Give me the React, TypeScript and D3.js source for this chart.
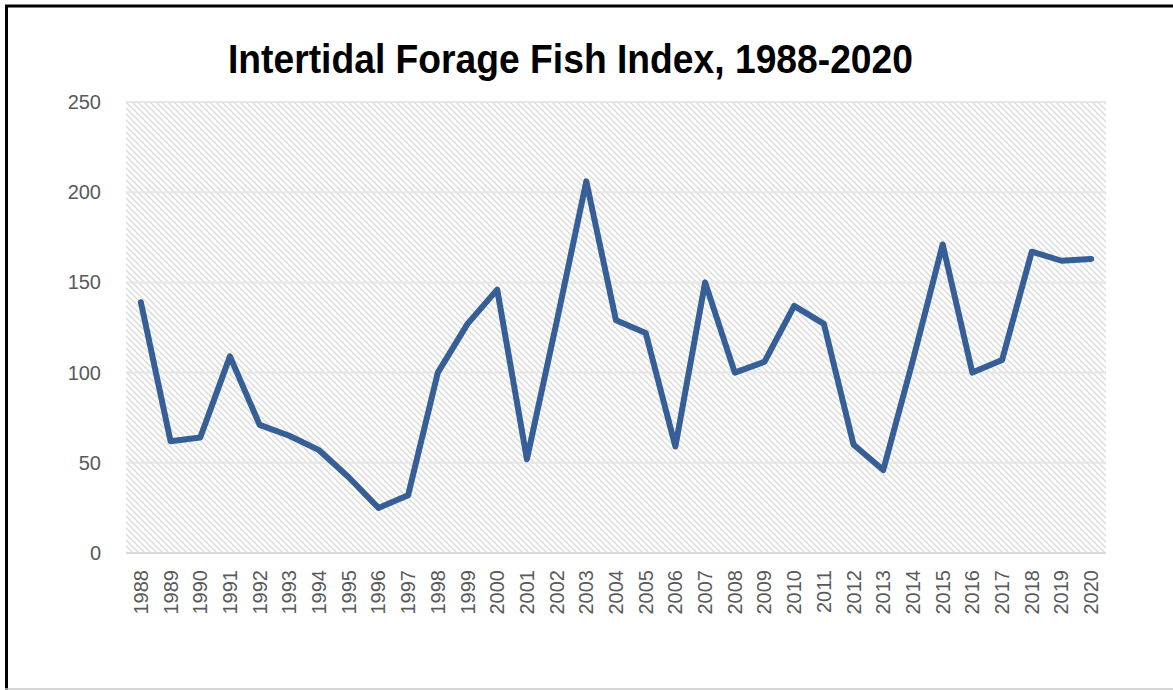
import React from "react";
import * as d3 from "d3";

const years = [
  "1988", "1989", "1990", "1991", "1992", "1993", "1994", "1995", "1996", "1997",
  "1998", "1999", "2000", "2001", "2002", "2003", "2004", "2005", "2006", "2007",
  "2008", "2009", "2010", "2011", "2012", "2013", "2014", "2015", "2016", "2017",
  "2018", "2019", "2020",
];
const indexValues = [
  139, 62, 64, 109, 71, 65, 57, 42, 25, 32,
  100, 127, 146, 52, 128, 206, 129, 122, 59, 150,
  100, 106, 137, 127, 60, 46, 107, 171, 100, 107,
  167, 162, 163,
];
const yTicks = [0, 50, 100, 150, 200, 250];
const title = "Intertidal Forage Fish Index, 1988-2020";

const W = 1173;
const H = 690;
const plot = { left: 126, right: 1106, top: 102, bottom: 553 };

export default function App() {
  const x = d3
    .scaleBand<string>()
    .domain(years)
    .range([plot.left, plot.right]);
  const y = d3.scaleLinear().domain([0, 250]).range([plot.bottom, plot.top]);

  const line = d3
    .line<number>()
    .x((d, i) => (x(years[i]) as number) + x.bandwidth() / 2)
    .y((d) => y(d));

  return (
    <svg
      width={W}
      height={H}
      style={{ position: "absolute", left: 0, top: 0, background: "#fff" }}
    >
      <defs>
        <pattern id="hatch" width="6" height="6" patternUnits="userSpaceOnUse">
          <path d="M-1,-1 L7,7 M-1,5 L1,7 M5,-1 L7,1" stroke="#dadada" strokeWidth="1.4" />
        </pattern>
      </defs>

      {/* frame */}
      <line x1={6.5} y1={5} x2={6.5} y2={H} stroke="#000" strokeWidth={3} />
      <line x1={5} y1={6} x2={W} y2={6} stroke="#000" strokeWidth={3} />
      <line x1={5} y1={689} x2={W} y2={689} stroke="#c8c8c8" strokeWidth={1.5} />

      <text
        x={228}
        y={73}
        textLength={685}
        lengthAdjust="spacingAndGlyphs"
        style={{ fontFamily: "'Liberation Sans Narrow', sans-serif", fontWeight: 700, fontSize: 40 }}
        fill="#000"
      >
        {title}
      </text>

      <rect
        x={plot.left}
        y={plot.top}
        width={plot.right - plot.left}
        height={plot.bottom - plot.top}
        fill="url(#hatch)"
      />

      {yTicks.map((t) => (
        <g key={t}>
          <line
            x1={plot.left}
            x2={plot.right}
            y1={y(t)}
            y2={y(t)}
            stroke={t === 0 ? "#d9d9d9" : "#e6e6e6"}
            strokeWidth={2}
          />
          <text
            x={101}
            y={y(t) + 7}
            textAnchor="end"
            fill="#595959"
            style={{ fontFamily: "'Liberation Sans', Arial, sans-serif", fontSize: 20 }}
          >
            {t}
          </text>
        </g>
      ))}

      {years.map((yr) => {
        const cx = (x(yr) as number) + x.bandwidth() / 2;
        return (
          <text
            key={yr}
            transform={`translate(${cx + 7},570) rotate(-90)`}
            textAnchor="end"
            fill="#595959"
            style={{ fontFamily: "'Liberation Sans', Arial, sans-serif", fontSize: 20 }}
          >
            {yr}
          </text>
        );
      })}

      <path
        d={line(indexValues) || ""}
        fill="none"
        stroke="#355f96"
        strokeWidth={6}
        strokeLinejoin="round"
        strokeLinecap="round"
      />
    </svg>
  );
}
